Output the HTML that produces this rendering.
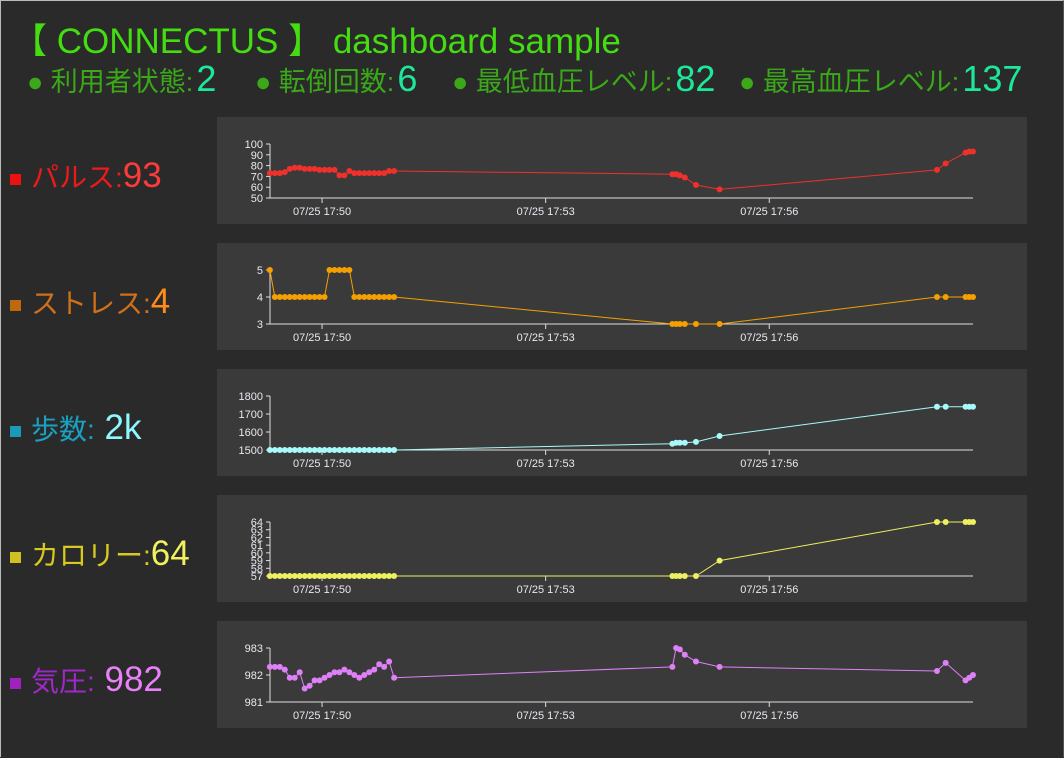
<!DOCTYPE html>
<html><head><meta charset="utf-8"><style>
body{margin:0;background:#2a2a2a;width:1064px;height:758px;overflow:hidden;font-family:"Liberation Sans","Noto Sans CJK JP",sans-serif;}
#frame{position:absolute;left:0;top:0;width:1062px;height:756px;border:1px solid #bbb;border-bottom:none;border-right:1px solid #555;}
.abs{position:absolute;white-space:nowrap;}
#title{left:12px;top:13px;font-size:35px;color:#44dd11;}
.stat{top:58px;font-size:27px;color:#3aa818;}
.stat b{font-weight:normal;font-size:36px;color:#1de89a;margin-left:3px;}
.lab{font-size:28px;left:10px;}
.lab i{display:inline-block;width:11px;height:11px;margin-right:10px;vertical-align:middle;}
.lab b{font-weight:normal;font-size:35px;}
.panel{position:absolute;left:217px;width:810px;height:107px;background:#3a3a3a;}
</style></head><body>
<div id="frame"></div>
<div class="abs" id="title">【 CONNECTUS 】 dashboard sample</div>
<div class="abs stat" style="left:27px">● 利用者状態:<b>2</b></div>
<div class="abs stat" style="left:255px">● 転倒回数:<b>6</b></div>
<div class="abs stat" style="left:452px">● 最低血圧レベル:<b>82</b></div>
<div class="abs stat" style="left:739px">● 最高血圧レベル:<b>137</b></div>

<div class="abs lab" style="top:156px;color:#ee1a1a"><i style="background:#ee1111"></i>パルス:<b style="color:#ff3a3a">93</b></div>
<div class="abs lab" style="top:282px;color:#d0701a"><i style="background:#c0680f"></i>ストレス:<b style="color:#ff8c1a">4</b></div>
<div class="abs lab" style="top:408px;color:#1aa0c0"><i style="background:#1a9ab8"></i>歩数:<b style="color:#8ff8ff"> 2k</b></div>
<div class="abs lab" style="top:534px;color:#d8c820"><i style="background:#d0c020"></i>カロリー:<b style="color:#f0f060">64</b></div>
<div class="abs lab" style="top:660px;color:#a028c8"><i style="background:#a020c0"></i>気圧:<b style="color:#e880f8"> 982</b></div>

<div class="panel" style="top:117px"><svg id="c0" width="810" height="107"></svg></div>
<div class="panel" style="top:243px"><svg id="c1" width="810" height="107"></svg></div>
<div class="panel" style="top:369px"><svg id="c2" width="810" height="107"></svg></div>
<div class="panel" style="top:495px"><svg id="c3" width="810" height="107"></svg></div>
<div class="panel" style="top:621px"><svg id="c4" width="810" height="107"></svg></div>

<script>
// time in seconds after 17:49:00
var times=[18,22,26,30,34,38,42,46,50,54,58,62,66,70,74,78,82,86,90,94,98,102,106,110,114,118,342,345,348,352,361,380,555,562,578,581,584];
var xTickSec=[60,240,420];
var xTickLabels=["07/25 17:50","07/25 17:53","07/25 17:56"];
var pulseValues=[73,73,73,74,77,78,78,77,77,77,76,76,76,76,71,71,75,73,73,73,73,73,73,73,75,75,72,72,71,69,62,58,76,82,92,93,93];
var stressValues=[5,4,4,4,4,4,4,4,4,4,4,4,5,5,5,5,5,4,4,4,4,4,4,4,4,4,3,3,3,3,3,3,4,4,4,4,4];
var stepsValues=[1500,1500,1500,1500,1500,1500,1500,1500,1500,1500,1500,1500,1500,1500,1500,1500,1500,1500,1500,1500,1500,1500,1500,1500,1500,1500,1535,1540,1540,1540,1545,1578,1740,1740,1740,1740,1740];
var calorieValues=[57,57,57,57,57,57,57,57,57,57,57,57,57,57,57,57,57,57,57,57,57,57,57,57,57,57,57,57,57,57,57,59,64,64,64,64,64];
var pressureValues=[982.3,982.3,982.3,982.2,981.9,981.9,982.1,981.5,981.6,981.8,981.8,981.9,982.0,982.1,982.1,982.2,982.1,982.0,981.9,982.0,982.1,982.2,982.4,982.3,982.5,981.9,982.3,983.0,982.95,982.75,982.5,982.3,982.15,982.45,981.8,981.9,982.0];
var pulseTicks=[50,60,70,80,90,100];
var stressTicks=[3,4,5];
var stepsTicks=[1500,1600,1700,1800];
var calorieTicks=[57,58,59,60,61,62,63,64];
var pressureTicks=[981,982,983];

var NS="http://www.w3.org/2000/svg";
var X0=53,X1=756,T0=18.1,T1=584;
function xs(t){return X0+(t-T0)/(T1-T0)*(X1-X0);}
function mk(svg,tag,a){var e=document.createElementNS(NS,tag);for(var k in a)e.setAttribute(k,a[k]);svg.appendChild(e);return e;}
function draw(id,vals,ticks,color,name){
  var svg=document.getElementById(id);
  var lo=ticks[0],hi=ticks[ticks.length-1],yT=27,yB=81;
  function ys(v){return yB-(v-lo)/(hi-lo)*(yB-yT);}
  var ax=mk(svg,"path",{d:"M"+X0+","+yT+"H"+(X0-4)+"M"+X0+","+yT+"V"+yB+"H"+X1,stroke:"#ddd",fill:"none","stroke-width":1});
  
  
  ticks.forEach(function(v){
    var y=ys(v);
    var tl=mk(svg,"line",{x1:X0-4,x2:X0,y1:y,y2:y,stroke:"#ddd"});
    
    
    var tx=mk(svg,"text",{x:X0-7,y:y+4,"text-anchor":"end","font-size":11,fill:"#e8e8f0"});
    tx.textContent=v;
    
    
  });
  xTickSec.forEach(function(s,i){
    var x=xs(s);
    var tl=mk(svg,"line",{x1:x,x2:x,y1:yB,y2:yB+5,stroke:"#ddd"});
    
    
    var tx=mk(svg,"text",{x:x,y:yB+17,"text-anchor":"middle","font-size":11,fill:"#e8e8f0"});
    tx.textContent=xTickLabels[i];
    
    
  });
  var d=vals.map(function(v,i){return (i?"L":"M")+xs(times[i]).toFixed(1)+","+ys(v).toFixed(1);}).join("");
  var ln=mk(svg,"path",{d:d,stroke:color,fill:"none","stroke-width":1});
  
  
  vals.forEach(function(v,i){
    var c=mk(svg,"circle",{cx:xs(times[i]),cy:ys(v),r:3,fill:color});
    
    
  });
}
draw("c0",pulseValues,pulseTicks,"#f0302a","pulse");
draw("c1",stressValues,stressTicks,"#f5a000","stress");
draw("c2",stepsValues,stepsTicks,"#a8fafa","steps");
draw("c3",calorieValues,calorieTicks,"#eef060","calorie");
draw("c4",pressureValues,pressureTicks,"#e080f8","pressure");
</script>
</body></html>
